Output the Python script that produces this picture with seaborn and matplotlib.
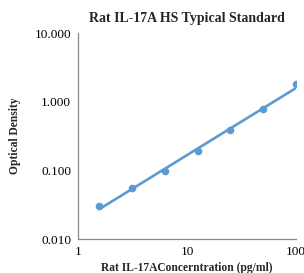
import numpy as np
import pandas as pd
import seaborn as sns
import matplotlib.pyplot as plt
from matplotlib.ticker import FixedLocator, LogLocator, FuncFormatter

# standard curve points
concentration = [1.56, 3.125, 6.25, 12.5, 25, 50, 100]
od = [0.030, 0.055, 0.097, 0.190, 0.39, 0.78, 1.80]

df = pd.DataFrame({'conc': concentration, 'od': od})

# power fit (straight line on log-log)
slope, intercept = np.polyfit(np.log10(df['conc']), np.log10(df['od']), 1)
fit = pd.DataFrame({'conc': [concentration[0], concentration[-1]]})
fit['od'] = 10 ** (intercept + slope * np.log10(fit['conc']))

sns.set_style('white')
plt.rcParams['font.family'] = ['Liberation Serif', 'DejaVu Serif']

blue = '#5b9bd5'
fig = plt.figure(figsize=(3.04, 2.73), dpi=100)
ax = fig.add_axes([0.257, 0.1245, 0.717, 0.7545])

sns.lineplot(data=fit, x='conc', y='od', color=blue, linewidth=1.9, ax=ax)
sns.scatterplot(data=df, x='conc', y='od', color=blue, s=30, edgecolor=blue, linewidth=0, ax=ax, zorder=3)

ax.set_xscale('log')
ax.set_yscale('log')
ax.set_xlim(1, 100)
ax.set_ylim(0.01, 10)

ax.xaxis.set_major_locator(FixedLocator([1, 10, 100]))
ax.xaxis.set_major_formatter(FuncFormatter(lambda v, p: '%g' % v))
ax.yaxis.set_major_locator(FixedLocator([0.01, 0.1, 1, 10]))
ax.yaxis.set_major_formatter(FuncFormatter(lambda v, p: '%.3f' % v))
ax.xaxis.set_minor_locator(LogLocator(base=10, subs=np.arange(2, 10)))
ax.yaxis.set_minor_locator(LogLocator(base=10, subs=np.arange(2, 10)))

ax.tick_params(which='both', direction='in', colors='#888888', labelcolor='black', labelsize=9.5)
ax.tick_params(which='major', length=4)
ax.tick_params(which='minor', length=2.5)
ax.tick_params(axis='y', pad=5)
ax.tick_params(axis='x', pad=5)

for side in ['top', 'right']:
    ax.spines[side].set_visible(False)
for side in ['left', 'bottom']:
    ax.spines[side].set_color('#888888')
    ax.spines[side].set_linewidth(0.9)

ax.set_title('Rat IL-17A HS Typical Standard', fontsize=10, fontweight='bold', pad=8)
ax.set_xlabel('Rat IL-17AConcerntration (pg/ml)', fontsize=8.3, fontweight='bold', labelpad=3)
ax.set_ylabel('Optical Density', fontsize=8.3, fontweight='bold', labelpad=10)

fig.savefig('out.png', dpi=100)
